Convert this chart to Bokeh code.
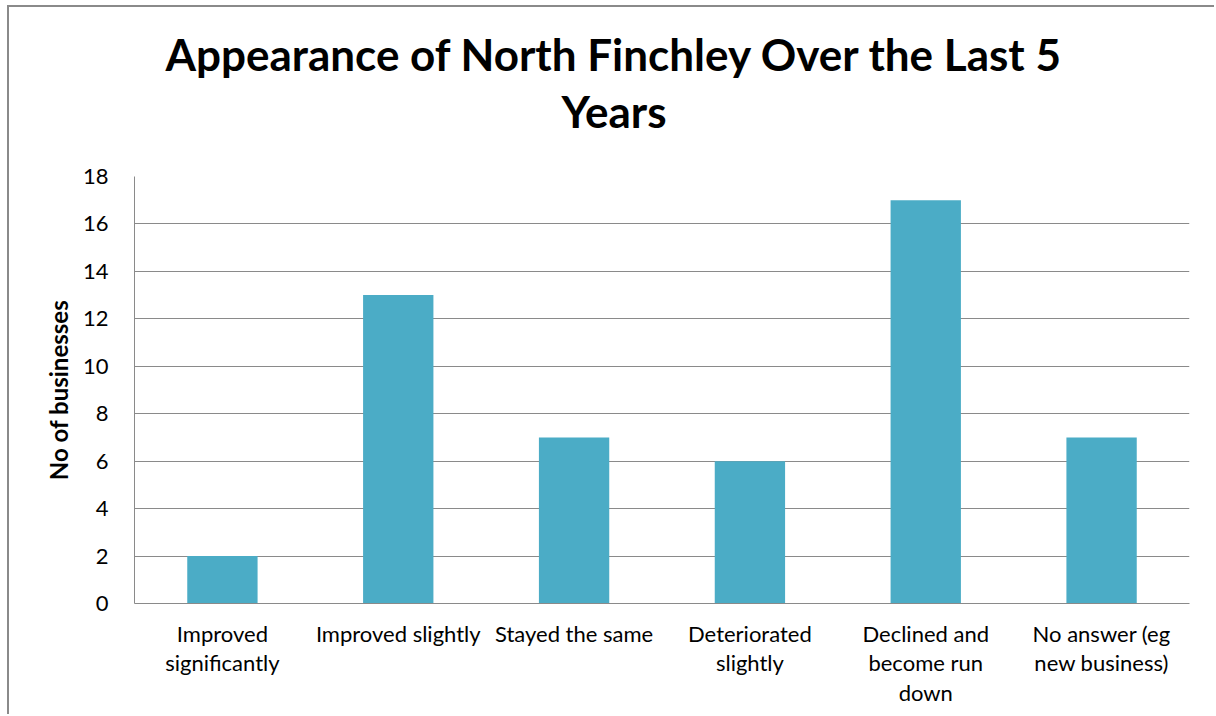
from bokeh.plotting import figure
from bokeh.models import Range1d, SingleIntervalTicker, Title
from bokeh.embed import file_html
from bokeh.resources import INLINE

# Survey responses: how the area's appearance has changed
categories = [
    "Improved\nsignificantly",
    "Improved slightly",
    "Stayed the same",
    "Deteriorated\nslightly",
    "Declined and\nbecome run\ndown",
    "No answer (eg\nnew business)",
]
counts = [2, 13, 7, 6, 17, 7]
y_ticks_max = 18
title_lines = ["Appearance of North Finchley Over the Last 5", "Years"]

FONT = "Lato"
GRAY = "#8a8a8a"

p = figure(
    x_range=categories,
    y_range=Range1d(0, y_ticks_max),
    width=1207, height=709,
    min_border_left=125, min_border_right=27,
    min_border_top=169, min_border_bottom=113,
    output_backend="svg", toolbar_location=None,
    margin=(5, 0, 0, 7),
    title=None,
)
p.styles = {"border-left": f"2px solid {GRAY}", "border-top": f"2px solid {GRAY}"}

p.vbar(x=categories, top=counts, width=0.4, fill_color="#4BACC6", line_color=None)

p.x_range.range_padding = 0
p.outline_line_color = None
p.xgrid.grid_line_color = None
p.ygrid.grid_line_color = GRAY
p.ygrid.grid_line_width = 1

p.yaxis.ticker = SingleIntervalTicker(interval=2)
p.yaxis.axis_label = "No of businesses"
p.yaxis.axis_label_text_font = FONT
p.yaxis.axis_label_text_font_style = "bold"
p.yaxis.axis_label_text_font_size = "24px"
p.yaxis.axis_label_text_color = "black"
p.yaxis.axis_label_standoff = 7
p.yaxis.major_label_text_font = FONT
p.yaxis.major_label_text_font_size = "22px"
p.yaxis.major_label_text_color = "black"
p.yaxis.major_label_standoff = 20

p.xaxis.major_label_text_font = FONT
p.xaxis.major_label_text_font_size = "22px"
p.xaxis.major_label_text_color = "black"
p.xaxis.major_label_text_line_height = 1.1
p.xaxis.major_label_standoff = 10

for ax in (p.xaxis, p.yaxis):
    ax.axis_line_color = GRAY
    ax.major_tick_line_color = None
    ax.minor_tick_line_color = None

# Two-line chart title, bottom line nearest the plot, centred on the chart
title_offsets = [427, 31]
title_standoffs = [80, -74]
for line, off, so in zip(reversed(title_lines), title_offsets, title_standoffs):
    p.add_layout(Title(
        text=line, align="left", offset=off,
        text_font=FONT, text_font_style="bold", text_font_size="44px",
        text_color="black", standoff=so,
    ), "above")

open("out.html", "w").write(file_html(p, INLINE))
